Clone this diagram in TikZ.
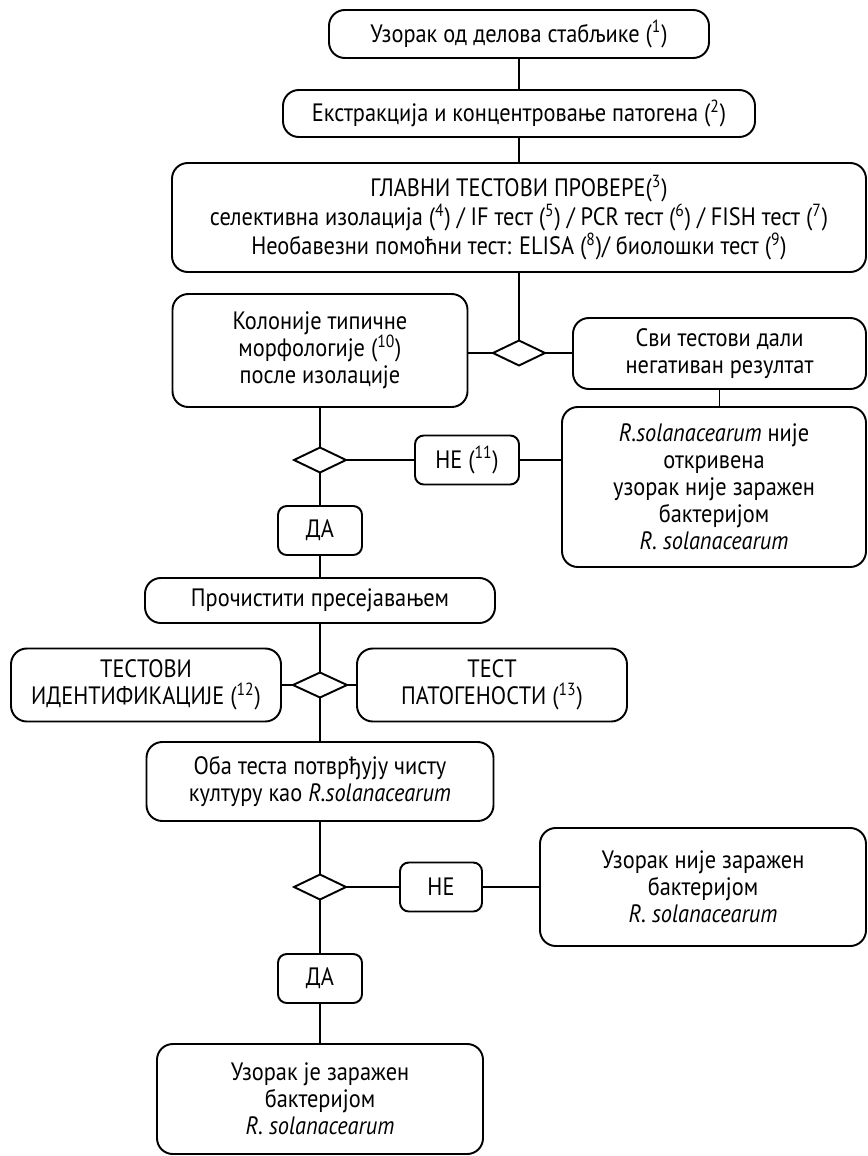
\documentclass[tikz,border=0pt]{standalone}
\usepackage{fontspec}
\setmainfont{PT Sans}[FakeStretch=0.89]
\usetikzlibrary{shapes.geometric}
\newcommand{\fn}[1]{(\textsuperscript{#1})}
\tikzset{
  x=0.02cm, y=-0.02cm,
  every node/.style={inner sep=0pt, outer sep=0pt},
  box/.style={draw, line width=1.1pt, rounded corners=9pt, align=center,
    font=\fontsize{14.3}{15.4}\selectfont},
  small/.style={box, rounded corners=5pt},
  choice/.style={draw, line width=1.1pt, diamond},
  link/.style={line width=1.1pt}
}
\begin{document}
\begin{tikzpicture}
\useasboundingbox (0,0) rectangle (868,1156);

% top column
\node[box, minimum width=380*0.02cm, minimum height=48*0.02cm] (b1) at (519,34)
  {Узорак од делова стабљике \fn{1}};
\node[box, minimum width=472*0.02cm, minimum height=47*0.02cm] (b2) at (519,113.5)
  {Екстракција и концентровање патогена \fn{2}};
\node[box, minimum width=694*0.02cm, minimum height=109*0.02cm] (b3) at (519,217.5)
  {ГЛАВНИ ТЕСТОВИ ПРОВЕРЕ\fn{3}\\
   селективна изолација \fn{4} / IF тест \fn{5} / PCR тест \fn{6} / FISH тест \fn{7}\\
   Необавезни помоћни тест: ELISA \fn{8}/ биолошки тест \fn{9}};
\node[choice, minimum width=52*0.02cm, minimum height=25*0.02cm] (d1) at (519,353) {};

% first branch
\node[box, minimum width=295*0.02cm, minimum height=113*0.02cm] (kol) at (320,350.5)
  {Колоније типичне\\ морфологије \fn{10}\\ после изолације};
\node[box, minimum width=293*0.02cm, minimum height=71*0.02cm] (svi) at (719.5,353.5)
  {Сви тестови дали\\ негативан резултат};
\node[box, minimum width=304*0.02cm, minimum height=160*0.02cm] (rsol) at (714,487)
  {\textit{R.solanacearum} није\\ откривена\\ узорак није заражен\\ бактеријом\\ \textit{R. solanacearum}};

\node[choice, minimum width=52*0.02cm, minimum height=25*0.02cm] (d2) at (320,460) {};
\node[small, minimum width=104*0.02cm, minimum height=49*0.02cm] (ne1) at (467,460) {НЕ \fn{11}};
\node[small, minimum width=84*0.02cm, minimum height=49*0.02cm] (da1) at (320,530.5) {ДА};

% purification and tests
\node[box, minimum width=350*0.02cm, minimum height=45*0.02cm] (pro) at (320,600.5)
  {Прочистити пресејавањем};
\node[choice, minimum width=54*0.02cm, minimum height=25*0.02cm] (d3) at (320,685) {};
\node[box, minimum width=270*0.02cm, minimum height=73*0.02cm] (tid) at (146,685)
  {ТЕСТОВИ\\ ИДЕНТИФИКАЦИЈЕ \fn{12}};
\node[box, minimum width=270*0.02cm, minimum height=73*0.02cm] (tpat) at (492,685)
  {ТЕСТ\\ ПАТОГЕНОСТИ \fn{13}};
\node[box, minimum width=347*0.02cm, minimum height=79*0.02cm] (oba) at (320,781.5)
  {Оба теста потврђују чисту\\ културу као \textit{R.solanacearum}};

% final decision
\node[choice, minimum width=52*0.02cm, minimum height=25*0.02cm] (d4) at (320,887) {};
\node[small, minimum width=82*0.02cm, minimum height=49*0.02cm] (ne2) at (441,887) {НЕ};
\node[box, minimum width=326*0.02cm, minimum height=118*0.02cm] (nz) at (703,887)
  {Узорак није заражен\\ бактеријом\\ \textit{R. solanacearum}};
\node[small, minimum width=84*0.02cm, minimum height=49*0.02cm] (da2) at (320,978.5) {ДА};
\node[box, minimum width=326*0.02cm, minimum height=110*0.02cm] (fin) at (320,1099)
  {Узорак је заражен\\ бактеријом\\ \textit{R. solanacearum}};

% connectors
\draw[link] (b1) -- (b2);
\draw[link] (b2) -- (b3);
\draw[link] (b3) -- (d1);
\draw[link] (d1.west) -- (d1.west -| kol.east);
\draw[link] (d1.east) -- (d1.east -| svi.west);
\draw[link] (svi.south) -- (svi.south |- rsol.north);
\draw[link] (kol) -- (d2);
\draw[link] (d2.east) -- (ne1.west);
\draw[link] (ne1.east) -- (ne1.east -| rsol.west);
\draw[link] (d2) -- (da1);
\draw[link] (da1) -- (pro);
\draw[link] (pro) -- (d3);
\draw[link] (d3.west) -- (d3.west -| tid.east);
\draw[link] (d3.east) -- (d3.east -| tpat.west);
\draw[link] (d3) -- (oba);
\draw[link] (oba) -- (d4);
\draw[link] (d4.east) -- (ne2.west);
\draw[link] (ne2.east) -- (ne2.east -| nz.west);
\draw[link] (d4) -- (da2);
\draw[link] (da2) -- (fin);
\end{tikzpicture}
\end{document}
